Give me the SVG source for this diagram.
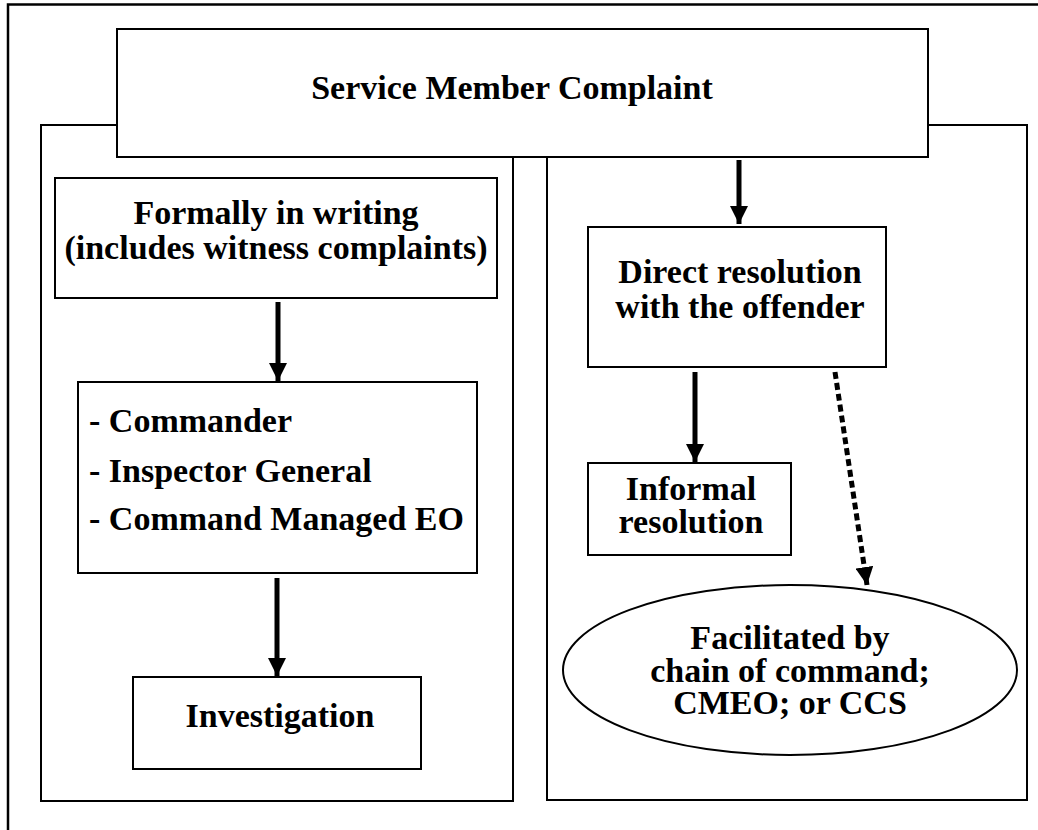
<svg xmlns="http://www.w3.org/2000/svg" width="1038" height="830" viewBox="0 0 1038 830">
  <style>
    .box { fill: #fff; stroke: #000; stroke-width: 2; }
    .frame { fill: none; stroke: #000; stroke-width: 2.5; }
    .lbl { font-family: "Liberation Serif", "Times New Roman", serif; font-weight: bold; font-size: 34px; fill: #000; }
    .mid { text-anchor: middle; }
    .arrow { stroke: #000; stroke-width: 5; fill: none; marker-end: url(#head); }
    .dotted { stroke: #000; stroke-width: 5; fill: none; stroke-dasharray: 7 4; marker-end: url(#head); }
  </style>
  <defs>
    <marker id="head" viewBox="0 0 18 18" markerUnits="userSpaceOnUse" markerWidth="18" markerHeight="18" refX="18" refY="9" orient="auto">
      <path d="M0,0 L18,9 L0,18 Z" fill="#000"/>
    </marker>
  </defs>

  <rect width="1038" height="830" fill="#fff"/>

  <!-- page frame: top and left edges only -->
  <path class="frame" d="M8,830 V4.5 H1038"/>

  <!-- two side panels -->
  <rect id="panel-left" class="box" x="41" y="125" width="472" height="676"/>
  <rect id="panel-right" class="box" x="547" y="125" width="480" height="675"/>

  <g id="complaint">
    <rect class="box" x="117" y="29" width="811" height="128"/>
    <text class="lbl mid" x="512" y="99" font-size="35.5">Service Member Complaint</text>
  </g>

  <g id="formal">
    <rect class="box" x="55" y="178" width="442" height="120"/>
    <text class="lbl mid" x="276" y="224">Formally in writing</text>
    <text class="lbl mid" x="276" y="259">(includes witness complaints)</text>
  </g>

  <g id="channels">
    <rect class="box" x="78" y="382" width="399" height="191"/>
    <text class="lbl" x="89" y="432">- Commander</text>
    <text class="lbl" x="89" y="482">- Inspector General</text>
    <text class="lbl" x="89" y="530">- Command Managed EO</text>
  </g>

  <g id="investigation">
    <rect class="box" x="133" y="677" width="288" height="92"/>
    <text class="lbl mid" x="280" y="727">Investigation</text>
  </g>

  <g id="direct">
    <rect class="box" x="588" y="227" width="298" height="140"/>
    <text class="lbl mid" x="740" y="283">Direct resolution</text>
    <text class="lbl mid" x="740" y="318">with the offender</text>
  </g>

  <g id="informal">
    <rect class="box" x="588" y="463" width="203" height="92"/>
    <text class="lbl mid" x="691" y="500">Informal</text>
    <text class="lbl mid" x="691" y="533">resolution</text>
  </g>

  <g id="facilitated">
    <ellipse class="box" cx="790" cy="670" rx="227" ry="85"/>
    <text class="lbl mid" x="790" y="649" font-size="32">Facilitated by</text>
    <text class="lbl mid" x="790" y="682" font-size="32">chain of command;</text>
    <text class="lbl mid" x="790" y="714" font-size="32">CMEO; or CCS</text>
  </g>

  <g id="connectors">
    <line class="arrow" x1="739" y1="160" x2="739" y2="224"/>
    <line class="arrow" x1="278" y1="302" x2="278" y2="381"/>
    <line class="arrow" x1="277" y1="578" x2="277" y2="676"/>
    <line class="arrow" x1="695" y1="372" x2="695" y2="462"/>
    <line class="dotted" x1="835" y1="372" x2="867" y2="585"/>
  </g>
</svg>
